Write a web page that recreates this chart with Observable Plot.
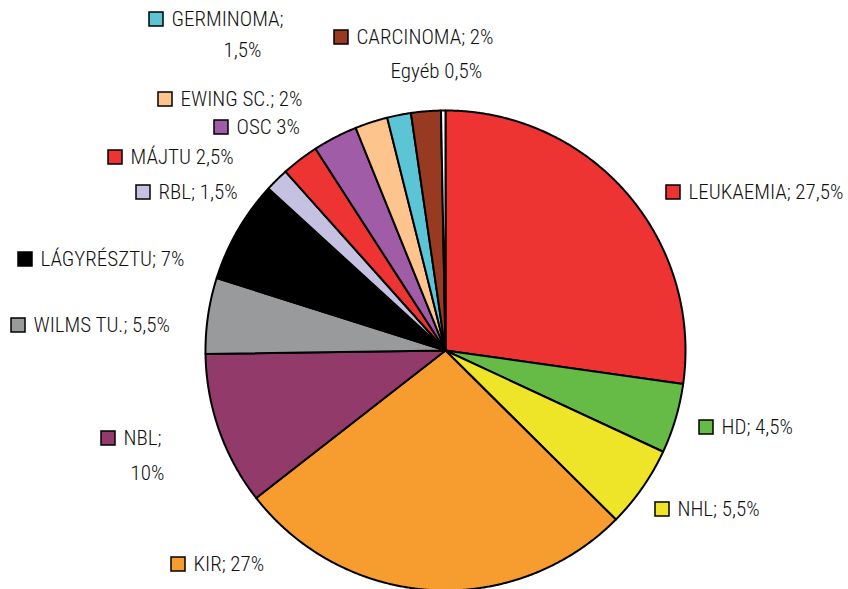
<!DOCTYPE html>
<html><head><meta charset="utf-8">
<script src="https://cdn.jsdelivr.net/npm/d3@7"></script>
<script src="https://cdn.jsdelivr.net/npm/@observablehq/plot@0.6"></script>
<style>body{margin:0;background:#fff} svg text{font-stretch:condensed;font-weight:300}</style>
</head><body><div id="chart"></div>
<script>
// Data (clockwise from 12 o'clock); slice sizes, labels as printed
const names  = ["LEUKAEMIA","HD","NHL","KIR","NBL","WILMS TU.","LÁGYRÉSZTU","RBL","MÁJTU","OSC","EWING SC.","GERMINOMA","CARCINOMA","Egyéb"];
const values = [27.2, 4.7, 5.5, 27.0, 10.3, 5.1, 6.9, 1.6, 2.5, 3.0, 2.2, 1.6, 2.0, 0.3];
const colors = ["#ee3433","#66bb46","#eee428","#f79c2f","#923a6a","#999a9c","#000000","#c4c2e0","#ee3433","#a15ca8","#fdc48e","#5bc5d5","#983a22","#ffffff"];
const labelLine1 = ["LEUKAEMIA; 27,5%","HD; 4,5%","NHL; 5,5%","KIR; 27%","NBL;","WILMS TU.; 5,5%","LÁGYRÉSZTU; 7%","RBL; 1,5%","MÁJTU 2,5%","OSC 3%","EWING SC.; 2%","GERMINOMA;","CARCINOMA; 2%","Egyéb 0,5%"];
const labelLine2 = ["","","","","10%","","","","","","","1,5%","",""];
const hasKey     = [true,true,true,true,true,true,true,true,true,true,true,true,true,false];

// Layout (pixels)
const W = 848, H = 589;
const cx = 445, cy = 350, R = 240;
const keyX = [666,699,655,171,101,11,18,136,108,214,158,149,334,390];
const keyY = [192,427,509,564,438,325,259,192,157,127,99,19,37,71];
const line2X = [0,0,0,0,130,0,0,0,0,0,0,223,0,0];
const line2Y = [0,0,0,0,473,0,0,0,0,0,0,50,0,0];
const SQ = 14;

const arcs = d3.pie().sort(null).startAngle(0).endAngle(2*Math.PI)(values);
const slicePts = [];
arcs.forEach((a, i) => {
  slicePts.push({name: names[i], color: colors[i], x: cx, y: cy});
  const n = Math.max(2, Math.ceil((a.endAngle - a.startAngle) / 0.005));
  for (let k = 0; k <= n; k++) {
    const t = a.startAngle + (a.endAngle - a.startAngle) * k / n;
    slicePts.push({name: names[i], color: colors[i], x: cx + R*Math.sin(t), y: cy - R*Math.cos(t)});
  }
});

const keys = names.map((n, i) => ({name: n, color: colors[i], x: keyX[i], y: keyY[i], key: hasKey[i], t1: labelLine1[i], t2: labelLine2[i], x2: line2X[i], y2: line2Y[i]}));
const keyed = keys.filter(d => d.key);
const second = keys.filter(d => d.t2);

const font = "'Roboto Condensed',Roboto,sans-serif";

const chart = Plot.plot({
  width: W, height: H,
  margin: 0,
  x: {type: "identity", axis: null},
  y: {type: "identity", axis: null},
  color: {type: "identity"},
  style: {fontFamily: font, background: "#fff"},
  marks: [
    Plot.line(slicePts, {x: "x", y: "y", z: "name", fill: "color", stroke: "#000", strokeWidth: 2, curve: "linear-closed", strokeLinejoin: "round"}),
    Plot.rect(keyed, {x1: d => d.x, x2: d => d.x + SQ, y1: d => d.y - SQ/2, y2: d => d.y + SQ/2, fill: "color", stroke: "#000", strokeWidth: 1.5}),
    Plot.text(keys, {x: d => d.key ? d.x + SQ + 8 : d.x, y: "y", text: "t1", textAnchor: "start", lineAnchor: "middle", fontSize: 21, fontWeight: 300, fill: "#111"}),
    Plot.text(second, {x: "x2", y: "y2", text: "t2", textAnchor: "start", lineAnchor: "middle", fontSize: 21, fontWeight: 300, fill: "#111"})
  ]
});
document.getElementById("chart").appendChild(chart);
</script>
</body></html>
